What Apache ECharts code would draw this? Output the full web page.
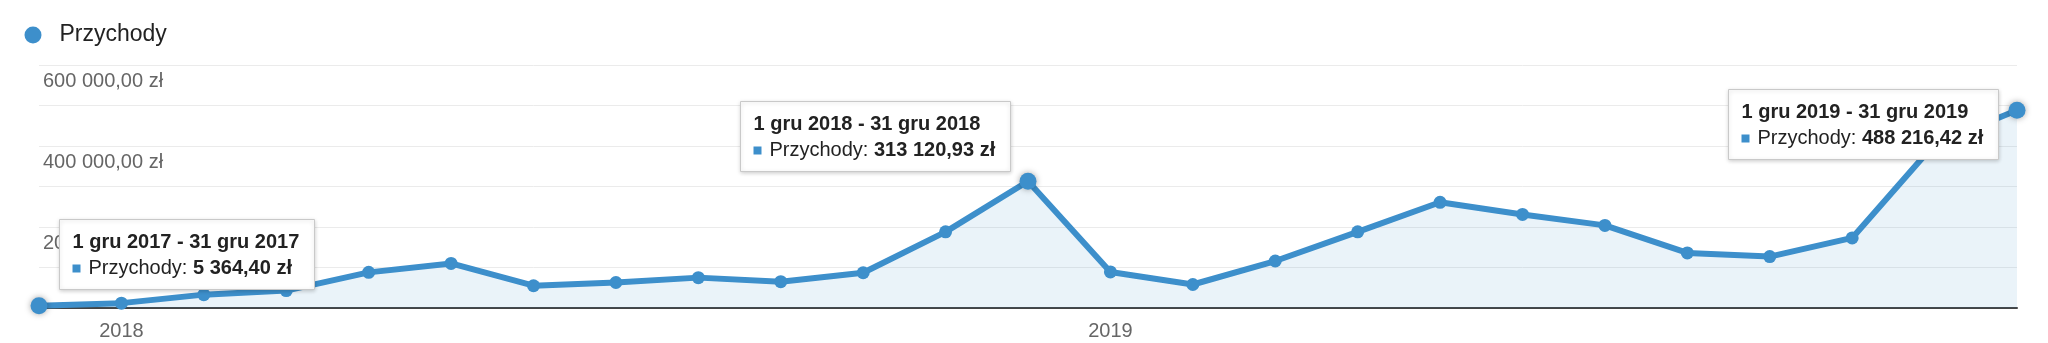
<!DOCTYPE html>
<html>
<head>
<meta charset="utf-8">
<script src="https://cdn.jsdelivr.net/npm/echarts@6/dist/echarts.min.js"></script>
<style>
html,body{margin:0;padding:0;background:#fff;}
#chart{width:2048px;height:343px;}
</style>
</head>
<body>
<div id="chart"></div>
<script>
// ---- data ----
const months = ['2017-12','2018-01','2018-02','2018-03','2018-04','2018-05','2018-06','2018-07','2018-08','2018-09','2018-10','2018-11','2018-12',
                '2019-01','2019-02','2019-03','2019-04','2019-05','2019-06','2019-07','2019-08','2019-09','2019-10','2019-11','2019-12'];
const revenue = [5364.40, 12000, 33000, 43000, 88000, 110000, 55000, 63000, 75000, 65000, 87000, 188000, 313120.93,
                 89000, 58000, 116000, 188000, 261000, 231000, 204000, 136000, 127000, 173000, 405000, 488216.42];
const xTickLabels = {'2018-01':'2018','2019-01':'2019'};
const yTickLabels = {200000:'200 000,00 zł', 400000:'400 000,00 zł', 600000:'600 000,00 zł'};
const seriesName = 'Przychody';
const highlighted = [0, 12, 24];
const annTitles = ['1 gru 2017 - 31 gru 2017','1 gru 2018 - 31 gru 2018','1 gru 2019 - 31 gru 2019'];
const annValues = ['5 364,40 zł','313 120,93 zł','488 216,42 zł'];

// ---- style ----
const BLUE = '#3d8fcb';
const FONT = '"Liberation Sans", Arial, sans-serif';
const FS = 20;

const chart = echarts.init(document.getElementById('chart'));

const seriesData = revenue.map((v, i) => highlighted.includes(i)
  ? {value: v, symbolSize: 17, itemStyle: {shadowBlur: 6, shadowColor: 'rgba(0,0,0,0.35)'}}
  : v);

chart.setOption({
  animation: false,
  textStyle: {fontFamily: FONT},
  legend: {
    data: [seriesName], left: 24.5, top: 23.5, padding: 0,
    icon: 'circle', itemWidth: 17, itemHeight: 17,
    textStyle: {fontSize: 23, color: '#222', fontFamily: FONT, padding: [0,0,0,13]}
  },
  grid: {left: 39, right: 31, top: 65, bottom: 35},
  xAxis: {
    type: 'category', data: months, boundaryGap: false,
    axisLine: {lineStyle: {color: '#444', width: 2}},
    axisTick: {show: false},
    axisLabel: {interval: 0, formatter: v => xTickLabels[v] || '', color: '#666', fontSize: FS, margin: 13, fontFamily: FONT},
    splitLine: {show: false}
  },
  yAxis: {
    type: 'value', min: 0, max: 600000, interval: 100000,
    axisLine: {show: false}, axisTick: {show: false},
    splitLine: {lineStyle: {color: '#ebebeb', width: 1}},
    axisLabel: {inside: true, margin: 4, verticalAlign: 'top', padding: [6,0,0,0],
      formatter: v => yTickLabels[v] || '', color: '#666', fontSize: FS, fontFamily: FONT}
  },
  series: [{
    name: seriesName, type: 'line', data: seriesData, clip: false,
    symbol: 'circle', symbolSize: 13, showAllSymbol: true,
    lineStyle: {color: BLUE, width: 6},
    itemStyle: {color: BLUE},
    areaStyle: {color: 'rgba(61,143,203,0.15)'},
    z: 3
  }]
});

// ---- annotation boxes (static tooltips) ----
const ctx = document.createElement('canvas').getContext('2d');
function tw(text, bold){ ctx.font = (bold ? 'bold ' : '') + FS + 'px ' + FONT; return ctx.measureText(text).width; }

const anchors = [{dx: 20, dy: -87, side: 'left'}, {dx: -18, dy: -80.5, side: 'right'}, {dx: -19, dy: -21, side: 'right'}];
const graphics = [];
const Z = 100;
highlighted.forEach((idx, k) => {
  const p = chart.convertToPixel({seriesIndex: 0}, [idx, revenue[idx]]);
  const label = seriesName + ': ';
  const w1 = tw(annTitles[k], true);
  const wl = tw(label, false);
  const wv = tw(annValues[k], true);
  const w = Math.max(w1, 16 + wl + wv) + 13 + 15;
  const h = 70;
  const a = anchors[k];
  const left = Math.round(a.side === 'left' ? p[0] + a.dx : p[0] + a.dx - w) + 0.5;
  const top = Math.round(p[1] + a.dy) + 0.5;
  graphics.push(
    {type: 'rect', z: Z, zlevel: 1, shape: {x: left, y: top, width: Math.round(w), height: h},
     style: {fill: '#fff', stroke: '#c9c9c9', lineWidth: 1, shadowBlur: 4, shadowOffsetY: 1, shadowColor: 'rgba(0,0,0,0.18)'}},
    {type: 'text', z: Z + 1, zlevel: 1, x: left + 13, y: top + 23, style: {text: annTitles[k], font: 'bold ' + FS + 'px ' + FONT, fill: '#222', verticalAlign: 'middle'}},
    {type: 'rect', z: Z + 1, zlevel: 1, shape: {x: left + 13, y: top + 45, width: 8, height: 8}, style: {fill: BLUE}},
    {type: 'text', z: Z + 1, zlevel: 1, x: left + 29, y: top + 49, style: {text: label, font: FS + 'px ' + FONT, fill: '#222', verticalAlign: 'middle'}},
    {type: 'text', z: Z + 1, zlevel: 1, x: left + 29 + wl, y: top + 49, style: {text: annValues[k], font: 'bold ' + FS + 'px ' + FONT, fill: '#222', verticalAlign: 'middle'}}
  );
});
chart.setOption({graphic: {elements: graphics}});
</script>
</body>
</html>
